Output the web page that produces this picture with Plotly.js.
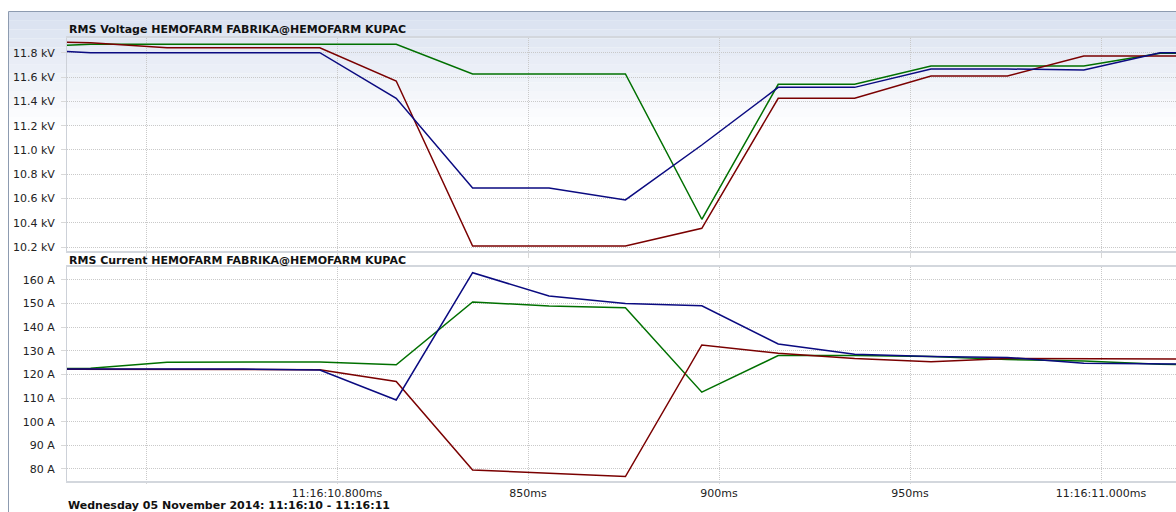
<!DOCTYPE html>
<html>
<head>
<meta charset="utf-8">
<script src="https://cdn.plot.ly/plotly-3.0.1.min.js"></script>
<style>
html,body{margin:0;padding:0;background:#fff;}
#chart{width:1176px;height:512px;}
</style>
</head>
<body>
<div id="chart"></div>
<script>
// ---- data (time in ms after 11:16:10) ----
var timeMs = [715.5, 735.5, 755.5, 775.5, 795.5, 815.5, 835.5, 855.5, 875.5, 895.5, 915.5, 935.5, 955.5, 975.5, 995.5, 1015.5, 1035.5];

var voltageBlue  = [11.83, 11.80, 11.80, 11.80, 11.80, 11.425, 10.687, 10.687, 10.589, 11.041, 11.515, 11.515, 11.666, 11.666, 11.658, 11.80, 11.80];
var voltageRed   = [11.895, 11.882, 11.841, 11.841, 11.841, 11.567, 10.21, 10.21, 10.21, 10.356, 11.425, 11.425, 11.608, 11.608, 11.773, 11.773, 11.773];
var voltageGreen = [11.845, 11.869, 11.869, 11.869, 11.869, 11.869, 11.625, 11.625, 11.625, 10.43, 11.54, 11.54, 11.69, 11.69, 11.69, 11.795, 11.80];

var currentBlue  = [122.3, 122.3, 122.3, 122.3, 121.9, 109.2, 163.1, 153.2, 150.1, 149.1, 132.9, 128.6, 127.6, 127.2, 124.8, 124.4, 124.2];
var currentRed   = [122.3, 122.3, 122.3, 122.3, 122.0, 117.0, 79.6, 78.2, 76.8, 132.5, 129.0, 126.8, 125.4, 126.8, 126.8, 126.5, 126.4];
var currentGreen = [122.5, 122.6, 125.2, 125.3, 125.3, 124.1, 150.7, 149.0, 148.3, 112.5, 128.0, 128.0, 127.6, 126.3, 125.7, 124.3, 123.7];

var xTickVals = [750, 800, 850, 900, 950, 1000];
var xTickText = ["", "11:16:10.800ms", "850ms", "900ms", "950ms", "11:16:11.000ms"];

var vTickVals = [10.2, 10.4, 10.6, 10.8, 11.0, 11.2, 11.4, 11.6, 11.8];
var vTickText = ["10.2 kV", "10.4 kV", "10.6 kV", "10.8 kV", "11.0 kV", "11.2 kV", "11.4 kV", "11.6 kV", "11.8 kV"];

var iTickVals = [80, 90, 100, 110, 120, 130, 140, 150, 160];
var iTickText = ["80 A", "90 A", "100 A", "110 A", "120 A", "130 A", "140 A", "150 A", "160 A"];

var voltageTitle = "RMS Voltage HEMOFARM FABRIKA@HEMOFARM KUPAC";
var currentTitle = "RMS Current HEMOFARM FABRIKA@HEMOFARM KUPAC";
var dateTitle = "Wednesday 05 November 2014: 11:16:10 - 11:16:11";

// ---- layout helpers ----
var W = 1176, H = 512;
function px(x){ return x / W; }
function py(y){ return 1 - y / H; }

var NAVY = "#0a0a80", MAROON = "#7a0000", GREEN = "#007000";

function line(x, y, color, xa, ya){
  return {x: x, y: y, type: "scatter", mode: "lines", xaxis: xa, yaxis: ya,
          line: {color: color, width: 1.5}, hoverinfo: "skip"};
}

var traces = [
  line(timeMs, voltageGreen, GREEN, "x", "y"),
  line(timeMs, voltageRed, MAROON, "x", "y"),
  line(timeMs, voltageBlue, NAVY, "x", "y"),
  line(timeMs, currentGreen, GREEN, "x2", "y2"),
  line(timeMs, currentRed, MAROON, "x2", "y2"),
  line(timeMs, currentBlue, NAVY, "x2", "y2")
];

var tickFont = {family: "DejaVu Sans, Verdana, sans-serif", size: 11, color: "#222"};
var xRange = [729.32, 1019.63];
var GRID = "#c9c9c9", DOTS = "1px,1px";

function xAxis(anchor, showLabels){
  return {
    domain: [px(67), 1], anchor: anchor, range: xRange, fixedrange: true,
    tickmode: "array", tickvals: xTickVals, ticktext: xTickText,
    showticklabels: showLabels, ticks: "outside", ticklen: showLabels ? 1 : 5, tickcolor: "#d8d8d8",
    showgrid: true, gridcolor: GRID, griddash: DOTS, gridwidth: 1,
    showline: true, linecolor: "#d3d7dd", linewidth: 2, mirror: true,
    zeroline: false, tickfont: tickFont, automargin: false
  };
}
function yAxis(domain, range, vals, text){
  return {
    domain: domain, range: range, fixedrange: true,
    tickmode: "array", tickvals: vals, ticktext: text,
    ticks: "outside", ticklen: 5, tickcolor: "#d8d8d8", ticklabelstandoff: 4,
    showgrid: true, gridcolor: GRID, griddash: DOTS, gridwidth: 1,
    showline: true, linecolor: "#cdd1d8", linewidth: 1,
    zeroline: false, tickfont: tickFont, automargin: false
  };
}

// background gradient bands behind the top panel
var shapes = [];
var bandTop = 12, bandBottom = 135, nBands = 14;
var c0 = [216, 224, 239], c1 = [255, 255, 255];
for (var i = 0; i < nBands; i++){
  var f = i / (nBands - 1);
  var c = c0.map(function(v, k){ return Math.round(v + (c1[k] - v) * Math.pow(f, 0.9)); });
  var y0 = bandTop + (bandBottom - bandTop) * i / nBands;
  var y1 = bandTop + (bandBottom - bandTop) * (i + 1) / nBands;
  shapes.push({type: "rect", xref: "paper", yref: "paper", layer: "below",
    x0: px(8.5), x1: 1, y0: py(y1), y1: py(y0),
    fillcolor: "rgb(" + c.join(",") + ")", line: {width: 0}});
}
// outer frame
shapes.push({type: "line", xref: "paper", yref: "paper", x0: px(8.5), x1: px(8.5), y0: 0, y1: py(11.5),
  line: {color: "#8d9bb0", width: 1}});
shapes.push({type: "line", xref: "paper", yref: "paper", x0: px(8.5), x1: 1, y0: py(11.5), y1: py(11.5),
  line: {color: "#8d9bb0", width: 1}});

var titleFont = {family: "DejaVu Sans, Verdana, sans-serif", size: 11, color: "#111", weight: "bold"};
var annotations = [
  {text: voltageTitle, xref: "paper", yref: "paper", x: px(67), y: py(29), xanchor: "left", yanchor: "middle",
   showarrow: false, font: titleFont},
  {text: currentTitle, xref: "paper", yref: "paper", x: px(67), y: py(260), xanchor: "left", yanchor: "middle",
   showarrow: false, font: titleFont},
  {text: dateTitle, xref: "paper", yref: "paper", x: px(67), y: py(513), xanchor: "left", yanchor: "bottom",
   showarrow: false, font: titleFont, borderpad: 0}
];

var layout = {
  width: W, height: H,
  margin: {l: 0, r: 0, t: 0, b: 0, pad: 0},
  paper_bgcolor: "#ffffff", plot_bgcolor: "rgba(0,0,0,0)",
  showlegend: false, hovermode: false,
  xaxis: xAxis("y", false),
  xaxis2: Object.assign(xAxis("y2", true), {matches: "x"}),
  yaxis: yAxis([py(251), py(38)], [10.169, 11.921], vTickVals, vTickText),
  yaxis2: yAxis([py(481), py(267)], [74.9, 165.5], iTickVals, iTickText),
  shapes: shapes,
  annotations: annotations
};

Plotly.newPlot("chart", traces, layout, {staticPlot: true, displayModeBar: false});
</script>
</body>
</html>
